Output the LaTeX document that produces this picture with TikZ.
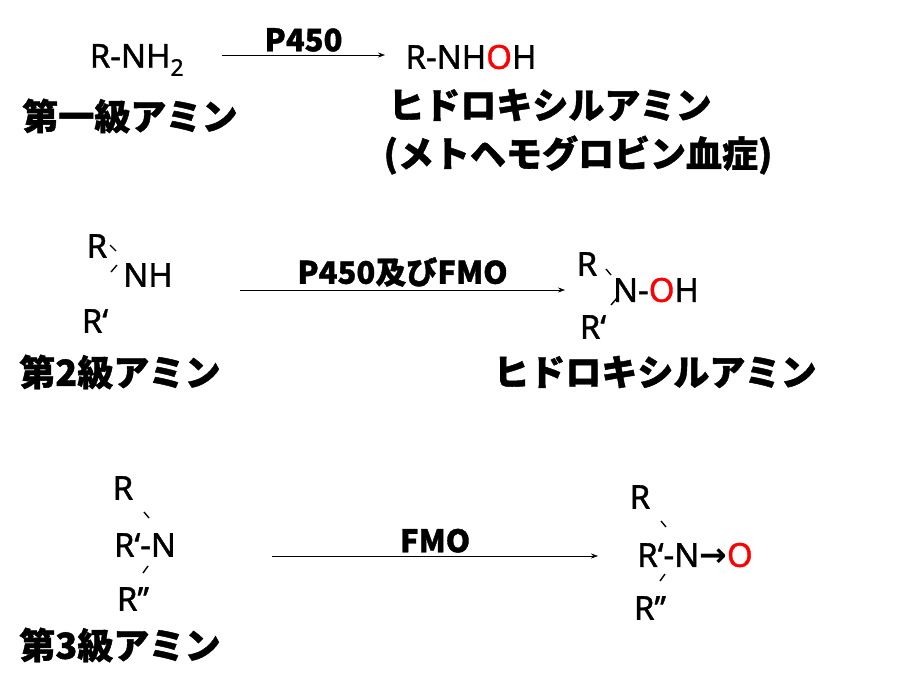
\documentclass[tikz,border=0pt]{standalone}
\usepackage{fontspec}
\setmainfont{Noto Sans}[FakeBold=1.2]
\newfontfamily\cjk{Noto Sans CJK JP}[FakeBold=1.2]
\newfontfamily\symf{DejaVu Sans}
\usetikzlibrary{positioning}
\usetikzlibrary{arrows.meta}
\begin{document}
\begin{tikzpicture}[x=1pt,y=-1pt,
    chem/.style={inner sep=0pt, font=\bfseries\fontsize{33}{36}\selectfont},
    jpname/.style={inner sep=0pt, font=\cjk\bfseries\fontsize{36}{48}\selectfont, align=center},
    rxn/.style={-{Stealth[length=7pt,width=5pt]}, line width=0.6pt},
    lbl/.style={above=3pt, inner sep=0pt, font=\cjk\bfseries\fontsize{31}{34}\selectfont},
    bond/.style={line width=1.4pt}]
\useasboundingbox (0,0) rectangle (902,688);
% primary amine
\node[chem] (a1) at (137,60) {R-NH\textsubscript{2}};
\node[jpname] (a1n) at (130,116) {第一級アミン};
\node[chem] (p1) at (471,57) {R-NH\textcolor{red}{O}H};
\node[jpname] (p1n) at (550,105) {ヒドロキシルアミン};
\node[jpname] (p1m) at (578,155) {(メトヘモグロビン血症)};
\coordinate (s1) at (222,55);
\coordinate (e1) at (385,55);
\draw[rxn] (s1) -- node[lbl] {P450} (e1);
% secondary amine
\node[chem] (b1) at (97,246) {R};
\node[chem] (b2) at (148,275) {NH};
\node[chem] (b3) at (95,321) {R‘};
\draw[bond] (110,245) -- (116,251);
\draw[bond] (117,265) -- (111,272);
\node[jpname] (b1n) at (120,372) {第2級アミン};
\node[chem] (q1) at (587,264) {R};
\node[chem] (q2) at (656,290) {N-\textcolor{red}{O}H};
\node[chem] (q3) at (593,327) {R‘};
\draw[bond] (606,269) -- (611,275);
\draw[bond] (617,298) -- (611,305);
\node[jpname] (q1n) at (655,372) {ヒドロキシルアミン};
\coordinate (s2) at (240,290);
\coordinate (e2) at (565,290);
\draw[rxn] (s2) -- node[lbl] {P450及びFMO} (e2);
% tertiary amine
\node[chem] (c1) at (123,488) {R};
\node[chem] (c2) at (145,545) {R‘-N};
\node[chem] (c3) at (133,599) {R’’};
\draw[bond] (144,512) -- (149,518);
\draw[bond] (148,566) -- (143,573);
\node[jpname] (c1n) at (120,645) {第3級アミン};
\node[chem] (r1) at (640,497) {R};
\node[chem] (r2) at (695,555) {R‘-N{\symf →}\textcolor{red}{O}};
\node[chem] (r3) at (650,608) {R’’};
\draw[bond] (661,521) -- (666,527);
\draw[bond] (665,574) -- (660,581);
\coordinate (s3) at (272,556);
\coordinate (e3) at (598,556);
\draw[rxn] (s3) -- node[lbl] {FMO} (e3);
\end{tikzpicture}
\end{document}
